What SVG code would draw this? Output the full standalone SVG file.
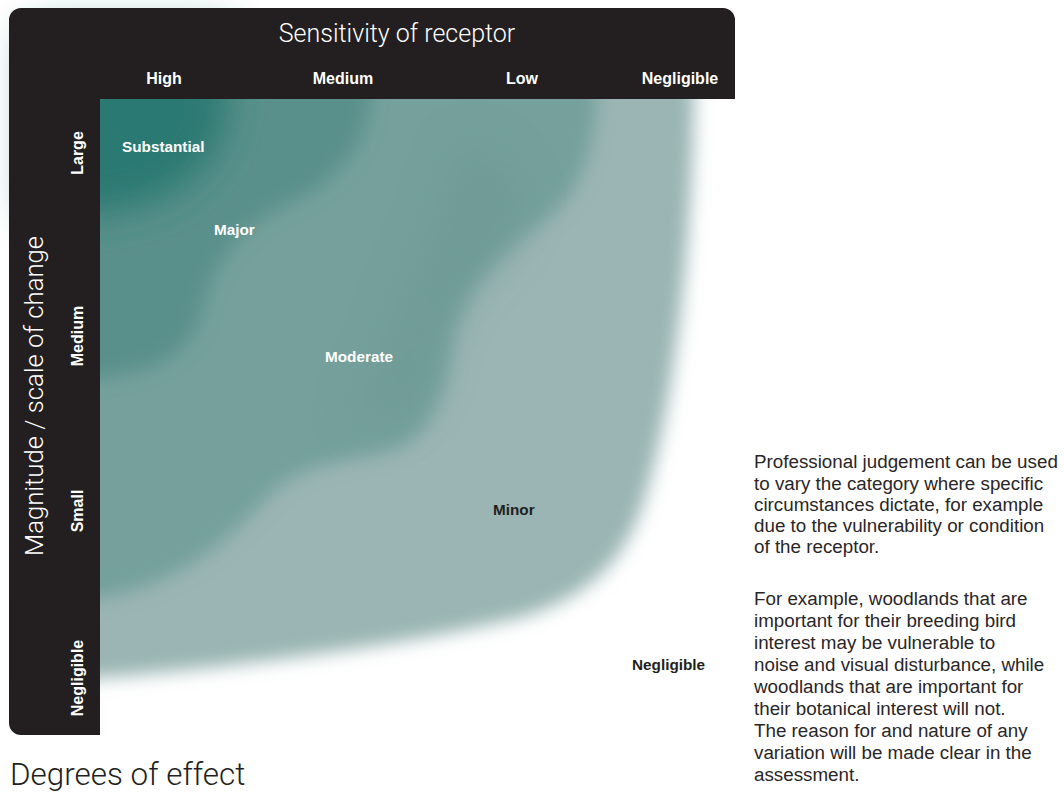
<svg xmlns="http://www.w3.org/2000/svg" width="1064" height="792" viewBox="0 0 1064 792">
<style>
.lt{font-family:Roboto,"Liberation Sans",Arial,sans-serif;font-weight:300;}
.hdr{font-family:"Liberation Sans",Arial,sans-serif;font-weight:700;font-size:16px;fill:#ffffff;}
.eff{font-family:"Liberation Sans",Arial,sans-serif;font-weight:700;font-size:15.3px;}
.body{font-family:"Liberation Sans",Arial,sans-serif;font-size:18.8px;fill:#2a2627;}
</style>
<defs>
<filter id="blurS" filterUnits="userSpaceOnUse" x="0" y="0" width="1064" height="792"><feGaussianBlur stdDeviation="18"/></filter>
<filter id="blurM" filterUnits="userSpaceOnUse" x="0" y="0" width="1064" height="792"><feGaussianBlur stdDeviation="9"/></filter>
<filter id="blurW" filterUnits="userSpaceOnUse" x="0" y="0" width="1064" height="792"><feGaussianBlur stdDeviation="22"/></filter>
</defs>
<rect width="1064" height="792" fill="#ffffff"/>
<g id="bands">
  <g id="band-minor"><path fill="#9ab5b3" filter="url(#blurM)" d="M 30,30 H 694 V 99 C 692,230 678,380 650,480 C 632,550 602,592 522,617 C 400,647 230,667 100,678 L 30,680 Z"/></g>
  <g id="band-moderate"><path fill="#74a09c" filter="url(#blurM)" d="M 30,30 H 596 V 99 C 594,150 580,195 543,222 C 495,258 462,290 452,345 C 444,395 432,440 385,452 C 335,463 298,466 268,497 C 228,540 180,585 100,598 L 30,600 Z"/>
  <path fill="#6c9793" opacity="0.6" filter="url(#blurW)" d="M 470,140 C 520,170 540,210 500,250 C 460,290 440,320 430,380 C 420,420 380,430 350,420 C 380,380 400,300 430,240 C 450,190 450,160 470,140 Z"/></g>
  <g id="band-major"><path fill="#5a908b" filter="url(#blurM)" d="M 30,30 H 370 V 99 C 366,150 332,185 282,207 C 235,230 212,268 202,310 C 190,355 155,372 100,378 L 30,380 Z"/></g>
  <g id="band-substantial"><path fill="#2a7972" filter="url(#blurS)" d="M 30,30 H 228 V 99 C 225,160 188,202 100,214 L 30,216 Z"/></g>
</g>
<g id="frame">
  <path fill="#231f20" d="M 21,8 H 723 A 12 12 0 0 1 735 20 V 99 H 100 V 735 H 21 A 12 12 0 0 1 9 723 V 20 A 12 12 0 0 1 21 8 Z"/>
  <text class="lt" x="397" y="42" font-size="25" fill="#ffffff" text-anchor="middle">Sensitivity of receptor</text>
  <text class="lt" transform="translate(43,396) rotate(-90)" font-size="25.7" fill="#ffffff" text-anchor="middle">Magnitude / scale of change</text>
</g>
<g id="col-high"><text class="hdr" x="164" y="84" text-anchor="middle">High</text></g>
<g id="col-medium"><text class="hdr" x="343" y="84" text-anchor="middle">Medium</text></g>
<g id="col-low"><text class="hdr" x="522" y="84" text-anchor="middle">Low</text></g>
<g id="col-negligible"><text class="hdr" x="680" y="84" text-anchor="middle">Negligible</text></g>
<g id="row-large"><text class="hdr" transform="translate(83,153) rotate(-90)" text-anchor="middle">Large</text></g>
<g id="row-medium"><text class="hdr" transform="translate(83,336) rotate(-90)" text-anchor="middle">Medium</text></g>
<g id="row-small"><text class="hdr" transform="translate(83,511) rotate(-90)" text-anchor="middle">Small</text></g>
<g id="row-negligible"><text class="hdr" transform="translate(83,678) rotate(-90)" text-anchor="middle">Negligible</text></g>
<g id="labels">
  <g id="lbl-substantial"><text class="eff" x="122" y="152" fill="#ffffff">Substantial</text></g>
  <g id="lbl-major"><text class="eff" x="214" y="235" fill="#ffffff">Major</text></g>
  <g id="lbl-moderate"><text class="eff" x="325" y="362" fill="#ffffff">Moderate</text></g>
  <g id="lbl-minor"><text class="eff" x="493" y="515" fill="#231f20">Minor</text></g>
  <g id="lbl-negligible"><text class="eff" x="632" y="670" fill="#231f20">Negligible</text></g>
</g>
<g id="title"><text class="lt" x="10" y="785" font-size="31.4" fill="#231f20">Degrees of effect</text></g>
<g id="notes">
  <text class="body" x="754" y="468">
    <tspan x="754" y="468">Professional judgement can be used</tspan>
    <tspan x="754" y="489.5">to vary the category where specific</tspan>
    <tspan x="754" y="511">circumstances dictate, for example</tspan>
    <tspan x="754" y="532">due to the vulnerability or condition</tspan>
    <tspan x="754" y="553">of the receptor.</tspan>
  </text>
  <text class="body" x="754" y="605">
    <tspan x="754" y="605">For example, woodlands that are</tspan>
    <tspan x="754" y="627">important for their breeding bird</tspan>
    <tspan x="754" y="649">interest may be vulnerable to</tspan>
    <tspan x="754" y="671">noise and visual disturbance, while</tspan>
    <tspan x="754" y="693">woodlands that are important for</tspan>
    <tspan x="754" y="715">their botanical interest will not.</tspan>
    <tspan x="754" y="737">The reason for and nature of any</tspan>
    <tspan x="754" y="759">variation will be made clear in the</tspan>
    <tspan x="754" y="781">assessment.</tspan>
  </text>
</g>
</svg>
